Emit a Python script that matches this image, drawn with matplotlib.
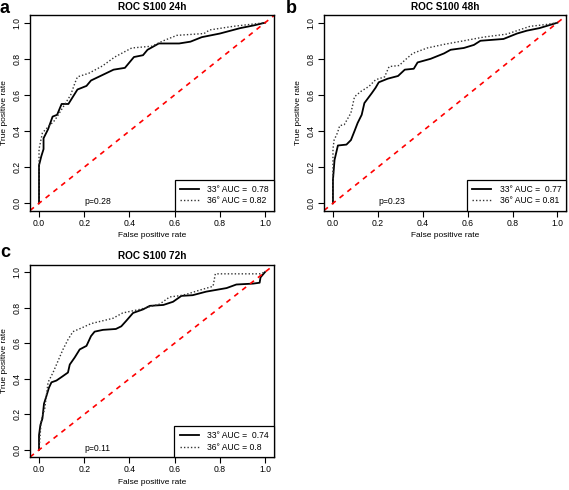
import matplotlib
matplotlib.use("Agg")
import matplotlib.pyplot as plt

plt.rcParams['font.family'] = ['Liberation Sans', 'DejaVu Sans']

# ROC S100 24h
fpr_24_33 = [0, 0, 0.01, 0.02, 0.02, 0.04, 0.06, 0.08, 0.10, 0.13, 0.15, 0.17, 0.21, 0.23, 0.28,
             0.33, 0.38, 0.40, 0.42, 0.46, 0.48, 0.53, 0.62, 0.67, 0.72, 0.80, 0.89, 0.95, 1.0]
tpr_24_33 = [0, 0.21, 0.26, 0.30, 0.36, 0.41, 0.48, 0.49, 0.55, 0.55, 0.59, 0.63, 0.65, 0.68, 0.71,
             0.74, 0.75, 0.78, 0.81, 0.82, 0.85, 0.885, 0.885, 0.895, 0.92, 0.94, 0.97, 0.985, 1.0]
fpr_24_36 = [0, 0.0, 0.015, 0.03, 0.07, 0.09, 0.11, 0.14, 0.16, 0.17, 0.22, 0.28, 0.335, 0.41,
             0.50, 0.55, 0.61, 0.73, 0.755, 0.86, 0.93, 1.0]
tpr_24_36 = [0, 0.30, 0.39, 0.41, 0.46, 0.50, 0.54, 0.60, 0.67, 0.70, 0.72, 0.76, 0.81, 0.86,
             0.87, 0.90, 0.93, 0.94, 0.96, 0.98, 0.99, 1.0]

# ROC S100 48h
fpr_48_33 = [0, 0, 0.007, 0.022, 0.06, 0.08, 0.096, 0.11, 0.128, 0.14, 0.155, 0.173, 0.19, 0.204,
             0.244, 0.29, 0.32, 0.36, 0.377, 0.435, 0.495, 0.524, 0.583, 0.628, 0.657, 0.76, 0.82,
             0.864, 0.92, 1.0]
tpr_48_33 = [0, 0.13, 0.24, 0.32, 0.325, 0.35, 0.40, 0.445, 0.49, 0.555, 0.58, 0.61, 0.64, 0.67,
             0.69, 0.705, 0.74, 0.745, 0.78, 0.80, 0.83, 0.85, 0.86, 0.877, 0.90, 0.91, 0.94,
             0.956, 0.97, 1.0]
fpr_48_36 = [0, 0, 0.005, 0.02, 0.03, 0.05, 0.08, 0.096, 0.125, 0.16, 0.19, 0.23, 0.25, 0.295,
             0.318, 0.355, 0.42, 0.495, 0.583, 0.67, 0.775, 0.878, 0.95, 1.0]
tpr_48_36 = [0, 0.30, 0.35, 0.39, 0.43, 0.435, 0.50, 0.59, 0.62, 0.647, 0.684, 0.70, 0.757, 0.763,
             0.79, 0.83, 0.86, 0.88, 0.90, 0.92, 0.937, 0.98, 0.99, 1.0]

# ROC S100 72h
fpr_72_33 = [0, 0, 0.006, 0.015, 0.022, 0.032, 0.044, 0.055, 0.077, 0.10, 0.128, 0.136, 0.158,
             0.18, 0.21, 0.23, 0.246, 0.283, 0.34, 0.364, 0.386, 0.416, 0.46, 0.49, 0.55, 0.593,
             0.63, 0.68, 0.74, 0.83, 0.873, 0.947, 0.976, 0.98, 1.0]
tpr_72_33 = [0, 0.083, 0.14, 0.176, 0.26, 0.30, 0.35, 0.38, 0.39, 0.41, 0.435, 0.48, 0.52,
             0.565, 0.585, 0.64, 0.665, 0.675, 0.68, 0.695, 0.726, 0.77, 0.79, 0.81, 0.815, 0.833,
             0.866, 0.87, 0.89, 0.91, 0.93, 0.935, 0.94, 0.97, 1.0]
fpr_72_36 = [0, 0.01, 0.025, 0.04, 0.062, 0.084, 0.106, 0.128, 0.15, 0.187, 0.23, 0.327, 0.37,
             0.445, 0.534, 0.578, 0.622, 0.652, 0.71, 0.77, 0.78, 0.976, 1.0]
tpr_72_36 = [0, 0.17, 0.23, 0.38, 0.435, 0.50, 0.565, 0.62, 0.665, 0.685, 0.71, 0.74, 0.77,
             0.79, 0.82, 0.86, 0.867, 0.875, 0.898, 0.92, 0.99, 0.99, 1.0]

titles = ["ROC S100 24h", "ROC S100 48h", "ROC S100 72h"]
letters = ["a", "b", "c"]
auc_33 = ["0.78", "0.77", "0.74"]
auc_36 = ["0.82", "0.81", "0.8"]
p_values = ["p=0.28", "p=0.23", "p=0.11"]
ticks = [0.0, 0.2, 0.4, 0.6, 0.8, 1.0]

curves = [
    (fpr_24_33, tpr_24_33, fpr_24_36, tpr_24_36),
    (fpr_48_33, tpr_48_33, fpr_48_36, tpr_48_36),
    (fpr_72_33, tpr_72_33, fpr_72_36, tpr_72_36),
]

fig = plt.figure(figsize=(5.69, 4.90), dpi=100)
rects = [
    [0.0527, 0.5704, 0.429, 0.398],
    [0.5694, 0.5704, 0.426, 0.398],
    [0.0527, 0.0673, 0.429, 0.392],
]
letter_pos = [(0.0, 1.0), (0.503, 1.0), (0.0, 0.502)]

for i in range(3):
    ax = fig.add_axes(rects[i])
    x33, y33, x36, y36 = curves[i]
    ax.plot(x33, y33, color='black', lw=1.3, label="33° AUC =  " + auc_33[i])
    ax.plot(x36, y36, color='#333333', lw=1.0, linestyle=(0, (1, 1.5)),
            label="36° AUC = " + auc_36[i])
    ax.axline((0, 0), (1, 1), color='red', lw=1.2, linestyle=(0, (3, 3)))
    ax.set_xlim(-0.04, 1.04)
    ax.set_ylim(-0.04, 1.04)
    ax.set_xticks(ticks)
    ax.set_yticks(ticks)
    ax.set_xticklabels(["%.1f" % t for t in ticks])
    ax.set_yticklabels(["%.1f" % t for t in ticks], rotation=90, va='center')
    ax.tick_params(labelsize=6.2, length=4, width=0.8, pad=2)
    for s in ax.spines.values():
        s.set_linewidth(1.0)
    ax.set_xlabel("False positive rate", fontsize=6.0, labelpad=3)
    ax.set_ylabel("True positive rate", fontsize=6.0, labelpad=3)
    ax.set_title(titles[i], fontsize=7.2, fontweight='bold', pad=4)
    ax.text(0.26, 0.01, p_values[i], fontsize=6.2, ha='center', va='center')
    leg = ax.legend(loc='lower right', fontsize=6.2, frameon=True, fancybox=False,
                    edgecolor='black', framealpha=1, borderaxespad=0, handlelength=2.2,
                    borderpad=0.6, labelspacing=0.3, handletextpad=1.0)
    leg.get_frame().set_linewidth(0.9)
    fig.text(letter_pos[i][0], letter_pos[i][1], letters[i], fontsize=13,
             fontweight='bold', ha='left', va='top')

fig.savefig("out.png", dpi=100)
